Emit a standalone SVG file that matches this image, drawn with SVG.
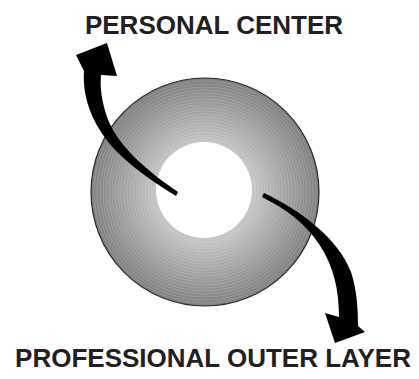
<svg xmlns="http://www.w3.org/2000/svg" width="419" height="379" viewBox="0 0 419 379">
<defs>
<radialGradient id="ring" cx="205" cy="192" r="114" gradientUnits="userSpaceOnUse">
<stop offset="0.42" stop-color="#c6c6c6"/>
<stop offset="1" stop-color="#808080"/>
</radialGradient>
</defs>
<style>
.lbl{font-family:"Liberation Sans",Arial,sans-serif;font-weight:bold;font-size:26px;fill:#231f20;text-anchor:middle}
.band{fill:none;stroke:#ffffff;stroke-opacity:0.14;stroke-width:1}
.arrow{fill:#000}
</style>
<g id="disc">
<circle cx="205" cy="192" r="114" fill="url(#ring)" stroke="#2a2a2a" stroke-width="1.2"/>
<g class="band">
<circle cx="205" cy="192" r="51"/><circle cx="205" cy="192" r="54"/><circle cx="205" cy="192" r="57"/>
<circle cx="205" cy="192" r="60"/><circle cx="205" cy="192" r="63"/><circle cx="205" cy="192" r="66"/>
<circle cx="205" cy="192" r="69"/><circle cx="205" cy="192" r="72"/><circle cx="205" cy="192" r="75"/>
<circle cx="205" cy="192" r="78"/><circle cx="205" cy="192" r="81"/><circle cx="205" cy="192" r="84"/>
<circle cx="205" cy="192" r="87"/><circle cx="205" cy="192" r="90"/><circle cx="205" cy="192" r="93"/>
<circle cx="205" cy="192" r="96"/><circle cx="205" cy="192" r="99"/><circle cx="205" cy="192" r="102"/>
<circle cx="205" cy="192" r="105"/><circle cx="205" cy="192" r="108"/><circle cx="205" cy="192" r="111"/>
</g>
<circle cx="204" cy="190" r="48" fill="#ffffff"/>
</g>
<g id="connectors">
<path class="arrow" d="M178,192 C150,173 120,148 109,122 C101,102 100,86 101,75 L117,76 L107,43 L76,55 L84,71 C82,100 94,128 118,153 C138,172 158,185 176,196 Z"/>
<path class="arrow" d="M264,193 C300,210 338,238 351,272 C357,290 358,310 358,326 L365,332 L335,343 L325,313 L339,317 C339,291 334,266 319,244 C306,224 286,209 262,197 Z"/>
</g>
<g id="personal-center"><text class="lbl" x="214" y="34">PERSONAL CENTER</text></g>
<g id="professional-outer-layer"><text class="lbl" x="213" y="367">PROFESSIONAL OUTER LAYER</text></g>
</svg>
